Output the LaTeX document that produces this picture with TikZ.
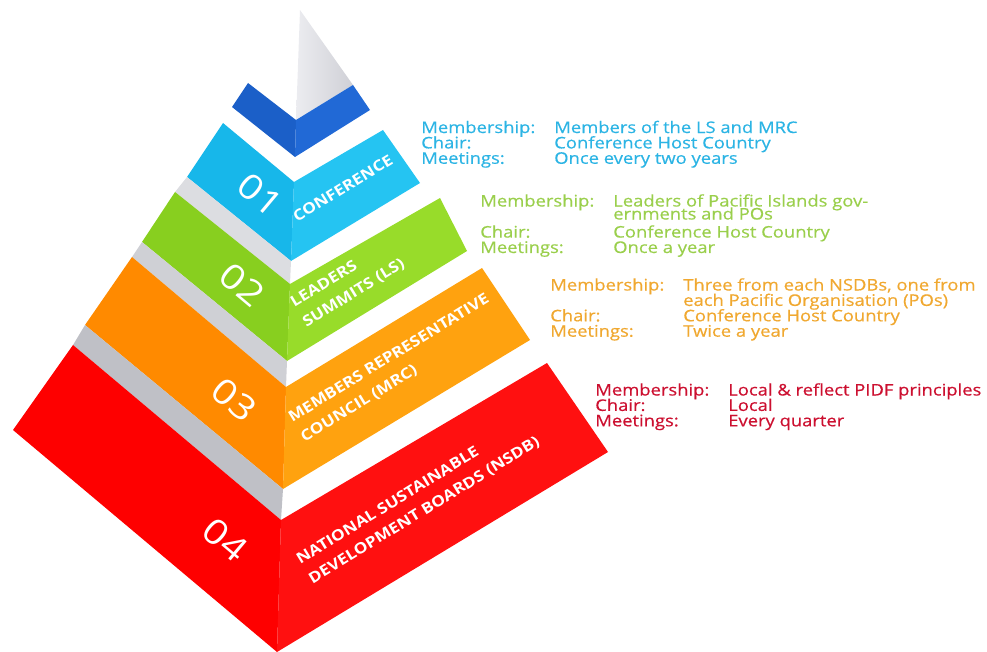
\documentclass[tikz,border=0pt]{standalone}
\usepackage{fontspec}
\setmainfont{Open Sans}[FakeStretch=1.15]
\newfontfamily\infofamily{Open Sans}[FakeStretch=1.15,FakeBold=0.5]
\definecolor{tipL}{HTML}{ECECF0}
\definecolor{tipR}{HTML}{CFD0D6}
\definecolor{blueL}{HTML}{1B5FC8}
\definecolor{blueR}{HTML}{2169D6}
\definecolor{cyanL}{HTML}{17B7EA}
\definecolor{cyanR}{HTML}{25C4F2}
\definecolor{greenL}{HTML}{88CF1F}
\definecolor{greenR}{HTML}{98DC2A}
\definecolor{orangeL}{HTML}{FF8A00}
\definecolor{orangeR}{HTML}{FFA20F}
\definecolor{redL}{HTML}{FE0000}
\definecolor{redR}{HTML}{FF1010}
\definecolor{bandA}{HTML}{DCDDE1}
\definecolor{bandB}{HTML}{CFD0D5}
\definecolor{bandC}{HTML}{BFC0C6}
\definecolor{cyanT}{HTML}{2CB4E4}
\definecolor{greenT}{HTML}{9ACF4C}
\definecolor{orangeT}{HTML}{F0A830}
\definecolor{redT}{HTML}{CC1030}
\newcommand\infolabel[1]{\makebox[99.75pt][l]{#1}}
\newcommand\infofont{\infofamily\fontsize{12}{11.55}\selectfont\lineskiplimit=-10pt\relax}
\begin{document}
\begin{tikzpicture}[x=0.75pt,y=-0.75pt,
    tiernum/.style={text=white,font=\fontsize{26}{26}\selectfont,rotate=-40,inner sep=0pt},
    tiername/.style={text=white,font=\bfseries\fontsize{11.3}{17.5}\selectfont,rotate=31.5,anchor=west,align=left,inner sep=0pt},
    info/.style={font=\infofont,anchor=north west,align=left,inner sep=0pt}]
    \useasboundingbox (0,0) rectangle (987,652);
    % pyramid
    \shade[left color=tipL,right color=tipR] (300,10) -- (353,85) -- (296,120) -- cycle;
    \fill[blueL] (248,83) -- (296,120) -- (295,157) -- (232,107) -- cycle;
    \fill[blueR] (296,120) -- (353,85) -- (370,110) -- (295,157) -- cycle;
    \fill[cyanL] (223,123) -- (294,182) -- (291,261) -- (187,177) -- cycle;
    \fill[cyanR] (294,182) -- (383,130) -- (420,183) -- (291,261) -- cycle;
    \fill[bandA] (187,177) -- (291,261) -- (290,284) -- (175,192) -- cycle;
    \fill[greenL] (175,192) -- (290,284) -- (287,361) -- (142,242) -- cycle;
    \fill[greenR] (290,284) -- (440,198) -- (467,251) -- (287,361) -- cycle;
    \fill[bandB] (142,242) -- (287,361) -- (286,387) -- (132,257) -- cycle;
    \fill[orangeL] (132,257) -- (286,387) -- (283,489) -- (85,325) -- cycle;
    \fill[orangeR] (286,387) -- (482,268) -- (530,340) -- (283,489) -- cycle;
    \fill[bandC] (85,325) -- (283,489) -- (281,520) -- (73,345) -- cycle;
    \fill[redL] (73,345) -- (281,520) -- (277,652) -- (13,430) -- cycle;
    \fill[redR] (281,520) -- (547,363) -- (608,452) -- (277,652) -- cycle;
    % numbers
    \node[tiernum] (num1) at (260,195) {01};
    \node[tiernum] (num2) at (242,285) {02};
    \node[tiernum] (num3) at (234,400) {03};
    \node[tiernum] (num4) at (225,540) {04};
    % tier names
    \node[tiername] (name1) at (294,218) {CONFERENCE};
    \node[tiername] (name2) at (298,314) {LEADERS\\SUMMITS (LS)};
    \node[tiername] (name3) at (296,429) {MEMBERS REPRESENTATIVE\\COUNCIL (MRC)};
    \node[tiername] (name4) at (304,571) {NATIONAL SUSTAINABLE\\DEVELOPMENT BOARDS (NSDB)};
    % details
    \node[info,text=cyanT] (info1) at (421,120.5) {\infolabel{Membership:}Members of the LS and MRC\\
        \infolabel{Chair:}Conference Host Country\\
        \infolabel{Meetings:}Once every two years};
    \node[info,text=greenT] (info2) at (480,194) {\infolabel{Membership:}Leaders of Pacific Islands gov-\\[-1.8pt]
        \infolabel{}ernments and POs\\[2pt]
        \infolabel{Chair:}Conference Host Country\\
        \infolabel{Meetings:}Once a year};
    \node[info,text=orangeT] (info3) at (550,278) {\infolabel{Membership:}Three from each NSDBs, one from\\
        \infolabel{}each Pacific Organisation (POs)\\
        \infolabel{Chair:}Conference Host Country\\
        \infolabel{Meetings:}Twice a year};
    \node[info,text=redT] (info4) at (595,383) {\infolabel{Membership:}Local \& reflect PIDF principles\\
        \infolabel{Chair:}Local\\
        \infolabel{Meetings:}Every quarter};
\end{tikzpicture}
\end{document}
